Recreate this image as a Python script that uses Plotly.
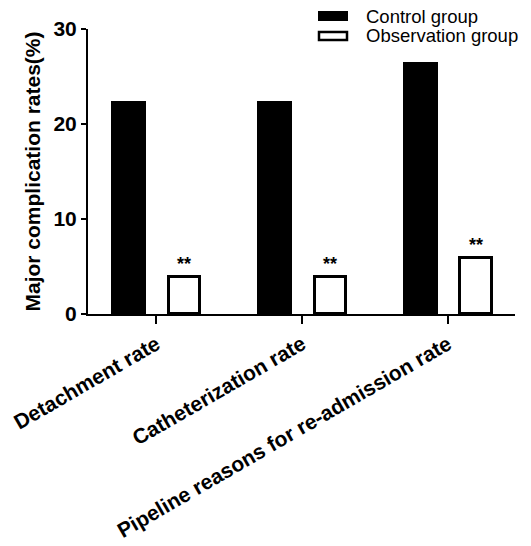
import plotly.graph_objects as go

categories = ["Detachment rate", "Catheterization rate", "Pipeline reasons for re-admission rate"]
control = [22.4, 22.4, 26.5]
observation = [3.9, 3.9, 5.9]
sig_marks = ["**", "**", "**"]
y_ticks = [0, 10, 20, 30]

FONT = "Arial, Liberation Sans, sans-serif"

fig = go.Figure()
fig.add_trace(go.Bar(
    x=categories, y=control, name="Control group",
    marker=dict(color="black", line=dict(color="black", width=0)),
    width=0.24, offset=-0.31, showlegend=False,
))
fig.add_trace(go.Bar(
    x=categories, y=observation, name="Observation group",
    marker=dict(color="white", line=dict(color="black", width=3)),
    width=0.215, offset=0.085, showlegend=False,
))

for c, v, s in zip(categories, observation, sig_marks):
    fig.add_annotation(
        x=c, y=v, text="<b>" + s + "</b>", showarrow=False,
        xshift=0.19 * 146, yshift=13, font=dict(family=FONT, size=18, color="black"),
    )

# manual legend
px0, pw, py0, ph = 88, 427, 29, 285
def px(x):
    return (x - px0) / pw
def py(y):
    return (py0 + ph - y) / ph

fig.add_shape(type="rect", xref="paper", yref="paper",
              x0=px(318), x1=px(348), y0=py(21), y1=py(11),
              fillcolor="black", line=dict(color="black", width=0))
fig.add_shape(type="rect", xref="paper", yref="paper",
              x0=px(319), x1=px(347), y0=py(40), y1=py(32),
              fillcolor="white", line=dict(color="black", width=2.5))
fig.add_annotation(xref="paper", yref="paper", x=px(364), y=py(16), xanchor="left",
                   yanchor="middle", text="Control group", showarrow=False,
                   font=dict(family=FONT, size=18.5, color="black"))
fig.add_annotation(xref="paper", yref="paper", x=px(364), y=py(36), xanchor="left",
                   yanchor="middle", text="Observation group", showarrow=False,
                   font=dict(family=FONT, size=18.5, color="black"))

fig.update_layout(
    width=531, height=546,
    margin=dict(l=88, r=16, t=29, b=232, autoexpand=False),
    plot_bgcolor="white", paper_bgcolor="white",
    font=dict(family=FONT, color="black"),
    bargap=0,
)
fig.update_xaxes(
    range=[-0.47, 2.46], automargin=False,
    showline=True, linecolor="black", linewidth=2,
    ticks="outside", ticklen=8, tickwidth=2, tickcolor="black",
    tickangle=-30,
    tickfont=dict(family=FONT, size=21, color="black", weight="bold"),
    showgrid=False, zeroline=False,
)
fig.update_yaxes(
    range=[0, 30], tickvals=y_ticks, automargin=False,
    showline=True, linecolor="black", linewidth=2,
    ticks="outside", ticklen=5, tickwidth=2, tickcolor="black",
    tickfont=dict(family=FONT, size=21, color="black", weight="bold"),
    title=dict(text="Major complication rates(%)", standoff=7,
               font=dict(family=FONT, size=21, color="black", weight="bold")),
    showgrid=False, zeroline=False,
)

fig.write_html("out.html")
